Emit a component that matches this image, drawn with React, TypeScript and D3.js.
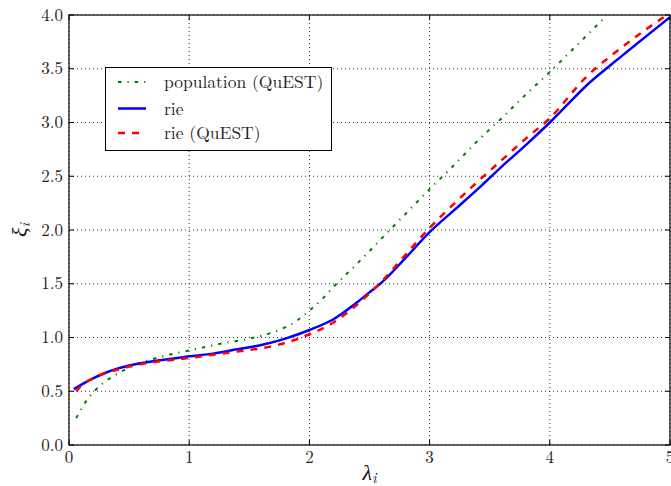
import React from "react";
import * as d3 from "d3";

const popX = [0.06, 0.1, 0.15, 0.22, 0.3, 0.4, 0.5, 0.7, 1.0, 1.3, 1.5, 1.7, 1.9, 2.0, 2.1, 2.2, 2.4, 2.6, 2.8, 3.0, 3.2, 3.4, 3.6, 3.8, 4.0, 4.2, 4.45];
const popY = [0.25, 0.33, 0.42, 0.51, 0.59, 0.66, 0.72, 0.8, 0.88, 0.95, 0.99, 1.05, 1.16, 1.25, 1.35, 1.47, 1.69, 1.92, 2.15, 2.38, 2.6, 2.83, 3.04, 3.26, 3.47, 3.69, 3.97];

const rieX = [0.04, 0.1, 0.2, 0.3, 0.4, 0.5, 0.7, 0.9, 1.0, 1.2, 1.4, 1.6, 1.8, 2.0, 2.2, 2.4, 2.5, 2.6, 2.8, 3.0, 3.2, 3.4, 3.6, 3.8, 4.0, 4.33, 4.6, 5.0];
const rieY = [0.52, 0.56, 0.62, 0.67, 0.71, 0.74, 0.78, 0.81, 0.825, 0.85, 0.89, 0.93, 0.99, 1.07, 1.17, 1.33, 1.42, 1.51, 1.74, 1.98, 2.18, 2.38, 2.59, 2.79, 3.0, 3.37, 3.62, 3.98];

const rqX = [0.06, 0.1, 0.2, 0.3, 0.4, 0.5, 0.7, 1.0, 1.2, 1.4, 1.6, 1.8, 2.0, 2.2, 2.4, 2.6, 2.8, 3.0, 3.2, 3.4, 3.6, 3.8, 4.0, 4.3, 4.6, 5.0];
const rqY = [0.5, 0.55, 0.62, 0.67, 0.7, 0.73, 0.77, 0.81, 0.84, 0.87, 0.9, 0.95, 1.03, 1.14, 1.31, 1.52, 1.77, 2.02, 2.24, 2.45, 2.65, 2.85, 3.04, 3.42, 3.7, 4.02];

const xTicks = [0, 1, 2, 3, 4, 5];
const yTicks = [0, 0.5, 1.0, 1.5, 2.0, 2.5, 3.0, 3.5, 4.0];
const legendLabels = ["population (QuEST)", "rie", "rie (QuEST)"];

const W = 671, H = 486;
const L = 69, R = 670, T = 15, B = 445;
const FONT = '"Latin Modern Roman", "Liberation Serif", serif';
const GREEK = '"Liberation Serif", "DejaVu Serif", serif';

export default function App() {
  const x = d3.scaleLinear().domain([0, 5]).range([L, R]);
  const y = d3.scaleLinear().domain([0, 4]).range([B, T]);
  const line = d3.line<[number, number]>().x(d => x(d[0])).y(d => y(d[1])).curve(d3.curveMonotoneX);
  const zip = (a: number[], b: number[]) => a.map((v, i) => [v, b[i]] as [number, number]);

  const series = [
    { d: zip(popX, popY), color: "#008000", dash: "3.5 6 1.2 6", w: 2 },
    { d: zip(rieX, rieY), color: "#0000ff", dash: "", w: 2.5 },
    { d: zip(rqX, rqY), color: "#ff0000", dash: "7 7", w: 2.5 },
  ];

  const legX = 105.5, legY = 67.5, legW = 226, legH = 83;
  const rowY = [82, 108.5, 133];
  const tf = { fontFamily: FONT } as React.CSSProperties;
  const gf = { fontFamily: GREEK } as React.CSSProperties;

  return (
    <svg width={W} height={H} style={{ position: "fixed", left: 0, top: 0, display: "block", background: "#fff" }}>
      <defs>
        <clipPath id="plot">
          <rect x={L} y={T} width={R - L} height={B - T} />
        </clipPath>
      </defs>
      <rect x={0} y={0} width={W} height={H} fill="#fff" />
      {xTicks.map(t => (
        <line key={"gx" + t} x1={x(t)} x2={x(t)} y1={T} y2={B} stroke="#000" strokeWidth={0.8} strokeDasharray="1 3" />
      ))}
      {yTicks.map(t => (
        <line key={"gy" + t} x1={L} x2={R} y1={y(t)} y2={y(t)} stroke="#000" strokeWidth={0.8} strokeDasharray="1 3" />
      ))}
      <g clipPath="url(#plot)">
        {series.map((s, i) => (
          <path key={i} d={line(s.d) || ""} fill="none" stroke={s.color} strokeWidth={s.w} strokeDasharray={s.dash} />
        ))}
      </g>
      {xTicks.map(t => (
        <g key={"tx" + t}>
          <line x1={x(t)} x2={x(t)} y1={B} y2={B - 5} stroke="#000" strokeWidth={1} />
          <line x1={x(t)} x2={x(t)} y1={T} y2={T + 5} stroke="#000" strokeWidth={1} />
          <text x={x(t)} y={B + 18} textAnchor="middle" style={tf} fontSize={17} fill="#222">{t}</text>
        </g>
      ))}
      {yTicks.map(t => (
        <g key={"ty" + t}>
          <line x1={L} x2={L + 5} y1={y(t)} y2={y(t)} stroke="#000" strokeWidth={1} />
          <line x1={R} x2={R - 5} y1={y(t)} y2={y(t)} stroke="#000" strokeWidth={1} />
          <text x={L - 6} y={y(t) + 5.5} textAnchor="end" style={tf} fontSize={17} fill="#222">{t.toFixed(1)}</text>
        </g>
      ))}
      <rect x={L} y={T} width={R - L} height={B - T} fill="none" stroke="#000" strokeWidth={1.2} />
      <text x={(L + R) / 2} y={480} textAnchor="middle" fontSize={22} fill="#111">
        <tspan style={gf} fontStyle="italic">λ</tspan>
        <tspan style={tf} fontStyle="italic" fontSize={15} dy={3}>i</tspan>
      </text>
      <text transform={`translate(27, ${(T + B) / 2}) rotate(-90)`} textAnchor="middle" fontSize={22} fill="#111">
        <tspan style={gf} fontStyle="italic">ξ</tspan>
        <tspan style={tf} fontStyle="italic" fontSize={15} dy={3}>i</tspan>
      </text>
      <rect x={legX} y={legY} width={legW} height={legH} fill="#fff" stroke="#000" strokeWidth={1} />
      {series.map((s, i) => (
        <g key={"lg" + i}>
          <line x1={118} x2={146} y1={rowY[i]} y2={rowY[i]} stroke={s.color} strokeWidth={s.w} strokeDasharray={s.dash} />
          <text x={164} y={rowY[i] + 6} style={tf} fontSize={17.5} fill="#222">{legendLabels[i]}</text>
        </g>
      ))}
    </svg>
  );
}
